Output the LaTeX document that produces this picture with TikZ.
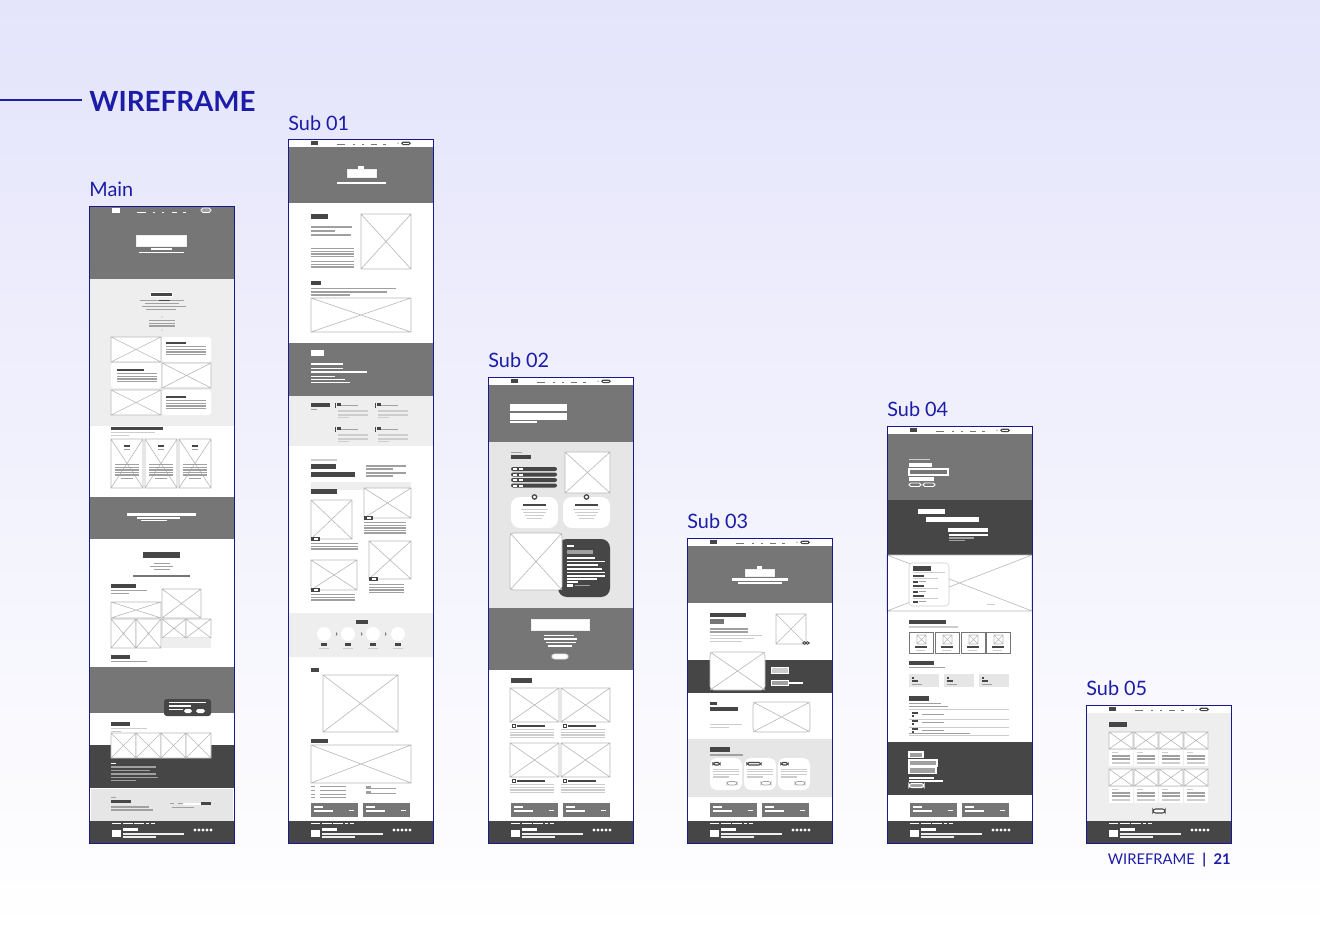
\documentclass[tikz,border=0pt]{standalone}
\usepackage{fontspec}
\setmainfont{Lato}
\usepackage{tikz}
\usetikzlibrary{positioning,calc}

\definecolor{navy}{RGB}{28,28,168}
\definecolor{bgtop}{RGB}{228,228,251}
\definecolor{mgr}{RGB}{118,118,118}
\definecolor{dgr}{RGB}{70,70,70}
\definecolor{lgA}{RGB}{238,238,238}
\definecolor{lgB}{RGB}{230,230,230}
\definecolor{tlc}{RGB}{160,160,160}
\definecolor{tllc}{RGB}{205,205,205}

\tikzset{
  ttl/.style={font=\fontsize{15.8}{19}\selectfont\bfseries, text=navy, inner sep=0},
  lbl/.style={font=\fontsize{11.3}{13}\selectfont, text=navy, inner sep=0},
  pgno/.style={font=\fontsize{8.4}{10}\selectfont, text=navy, inner sep=0},
  frame/.style={draw=navy!85!black, line width=0.45pt},
  imgln/.style={draw=gray!55, line width=0.35pt, fill=white},
  tl/.style={fill=tlc},
  tll/.style={fill=tllc}
}

% image placeholder with a cross
\newcommand{\ximg}[4]{\filldraw[imgln] (#1,#2) rectangle (#3,#4) (#1,#2) -- (#3,#4) (#1,#4) -- (#3,#2);}
% block of text lines
\newcommand{\para}[5][tl]{\foreach \k in {1,...,#5} \fill[#1] (#2,#3+2.6*\k-2.6) rectangle (#4,#3+2.6*\k-1.3);}
% top bar of the sub pages
\newcommand{\subnav}[1]{%
  \fill[white] (0,#1) rectangle (145,#1+8);
  \fill[dgr] (23,#1+2) rectangle (30,#1+6);
  \foreach \a/\b in {49/57,65/67,74/76,83/89,95/98} \fill[mgr] (\a,#1+4.5) rectangle (\b,#1+5.5);
  \fill[dgr, rounded corners=1] (113,#1+2.5) rectangle (123,#1+6);
  \fill[white] (115,#1+3.6) rectangle (121,#1+4.9);
  \fill[mgr] (110,#1+4.3) circle (0.6);}
% page footer
\newcommand{\pgfoot}{%
  \fill[dgr] (0,821) rectangle (145,843);
  \foreach \a/\b in {23/32,34/44,45/55,57/60,62/66} \fill[white] (\a,823) rectangle (\b,824.2);
  \fill[white] (23,830) rectangle (32,837);
  \fill[white] (34,828) rectangle (49,830.5);
  \fill[lgA] (34,832.5) rectangle (95,834.5);
  \fill[lgA] (34,836) rectangle (67,837.6);
  \foreach \i in {0,...,4} \fill[white] (106+4*\i,830) circle (1.6);}
% two grey call-to-action blocks
\newcommand{\ctas}{%
  \foreach \a in {23,75} {
    \fill[mgr] (\a,803) rectangle (\a+47,817);
    \fill[white] (\a+3,806) rectangle (\a+12,808);
    \fill[white] (\a+3,810) rectangle (\a+22,811.5);
    \fill[white] (\a+38,810) rectangle (\a+43,811);}}

\begin{document}
\begin{tikzpicture}[x=0.02cm, y=-0.02cm]
    \useasboundingbox (0,0) rectangle (1320,933);
    % Background
    \shade[top color=bgtop, bottom color=white] (0,0) rectangle (1320,933);

    % Title
    \node[ttl, anchor=base west] (title) at (89,112) {WIREFRAME};
    \coordinate (rulestart) at (0,100);
    \draw[navy, line width=0.8pt] (rulestart) -- ([xshift=-4pt]title.west |- rulestart);

    % Page labels
    \node[lbl, anchor=base west] (main) at (89,196) {Main};
    \node[lbl, anchor=base west] (subA) at (288,130) {Sub 01};
    \node[lbl, anchor=base west] (subB) at (488,367) {Sub 02};
    \node[lbl, anchor=base west] (subC) at (687,528) {Sub 03};
    \node[lbl, anchor=base west] (subD) at (887,416) {Sub 04};
    \node[lbl, anchor=base west] (subE) at (1086,695) {Sub 05};
    \node[pgno, anchor=base east] (pageno) at (1231,864) {WIREFRAME\enspace\textbf{|}\enspace\textbf{21}};

    % ---------------- Main ----------------
    \begin{scope}[shift={(89,0)}]
    \fill[white] (0,206) rectangle (145,843);
    % hero
    \fill[mgr] (0,206) rectangle (145,279);
    \fill[white] (23,208) rectangle (31,213);
    \foreach \a/\b in {48/57,64/66,73/75,83/88,94/97} \fill[white] (\a,211.5) rectangle (\b,212.8);
    \draw[white, fill=tlc, rounded corners=1] (112,208) rectangle (122,212.5);
    \filldraw[fill=white, draw=lgA] (47,235) rectangle (97,246);
    \fill[white] (62,248) rectangle (83,249.5);
    \fill[white] (50,251.5) rectangle (95,253);
    % intro
    \fill[lgA] (0,279) rectangle (145,426);
    \filldraw[fill=dgr, draw=white] (61,292) rectangle (83,296);
    \fill[tl] (51,300) rectangle (95,301.2);
    \fill[dgr] (70,299.6) rectangle (81,301.2);
    \fill[tl] (56,303) rectangle (90,304.2);
    \fill[tl] (53,306) rectangle (97,307.2);
    \fill[tl] (57,309) rectangle (87,310.2);
    \fill[tllc] (73,317) circle (0.8);
    \para{60}{320}{86}{3}
    \fill[tllc] (73,330) circle (0.8);
    % zig-zag rows
    \ximg{22}{337}{72}{362}
    \fill[white, rounded corners=1] (73,337) rectangle (122,362);
    \fill[dgr] (77,342) rectangle (97,344);
    \para{77}{346}{117}{4}
    \fill[white, rounded corners=1] (22,363) rectangle (72,388);
    \fill[dgr] (28,369) rectangle (55,371);
    \para{28}{373}{68}{4}
    \ximg{73}{363}{122}{388}
    \ximg{22}{390}{72}{415}
    \fill[white, rounded corners=1] (73,390) rectangle (122,415);
    \fill[dgr] (77,396) rectangle (97,398);
    \para{77}{400}{117}{4}
    % three cards
    \fill[dgr] (22,427) rectangle (74,430);
    \fill[tll] (22,432) rectangle (66,433);
    \fill[tll] (22,434.5) rectangle (40,435.5);
    \foreach \a in {22,56,90} {
      \ximg{\a}{439}{\a+32}{488}
      \fill[dgr] (\a+13,445) rectangle (\a+19,447);
      \fill[tl] (\a+13,449) rectangle (\a+19,450);
      \para{\a+4}{464}{\a+28}{5}
      \fill[tl] (\a+10,478) rectangle (\a+22,479.2);}
    % banner
    \fill[mgr] (0,497) rectangle (145,539);
    \fill[white] (38,513) rectangle (107,515.5);
    \fill[white] (48,517) rectangle (91,519);
    \fill[white] (52,520) rectangle (78,521.2);
    % gallery
    \filldraw[fill=dgr, draw=white] (53,551) rectangle (91,558);
    \fill[tl] (65,563) rectangle (81,564);
    \fill[tl] (61,566) rectangle (84,567);
    \fill[tl] (65,569) rectangle (81,570);
    \fill[mgr] (44,575) rectangle (101,576.5);
    \fill[dgr] (22,584) rectangle (47,588);
    \fill[tl] (22,590) rectangle (58,591);
    \fill[tl] (22,592.5) rectangle (40,593.5);
    \ximg{73}{589}{112}{618}
    \ximg{22}{602}{72}{618}
    \ximg{22}{619}{47}{648}
    \ximg{47}{619}{72}{648}
    \ximg{73}{619}{97}{638}
    \ximg{97}{619}{122}{638}
    \fill[lgA] (73,638) rectangle (122,648);
    \fill[dgr] (22,655) rectangle (41,659);
    \fill[tl] (22,661) rectangle (58,662);
    % grey band with dark box
    \fill[mgr] (0,667) rectangle (145,713);
    \fill[dgr, rounded corners=1.5] (75,699) rectangle (122,716);
    \fill[white] (80,701.5) rectangle (117,703);
    \fill[white] (80,705) rectangle (102,706.5);
    \fill[white] (80,708.5) rectangle (94,710);
    \fill[white, rounded corners=1] (95,709) rectangle (103,713);
    \fill[white, rounded corners=1] (107,709) rectangle (116,713);
    % image strip over dark band
    \fill[dgr] (22,722) rectangle (41,726);
    \fill[tll] (22,728) rectangle (58,729);
    \fill[tll] (22,730.5) rectangle (32,731.5);
    \fill[dgr] (0,745) rectangle (145,788);
    \foreach \a in {22,47,72,97} {\ximg{\a}{733}{\a+25}{758}}
    \fill[white] (22,763) rectangle (27,764);
    \foreach \b/\y in {67/766,61/769.5,67/773,69/776.5} \fill[tl] (22,\y) rectangle (\b,\y+1.5);
    \fill[tl] (22,780) rectangle (47,781.2);
    % contact strip
    \filldraw[fill=lgB, draw=white] (1,788) rectangle (144,821);
    \fill[tl] (22,797) rectangle (27,798);
    \fill[dgr] (22,800) rectangle (42,803);
    \fill[tl] (22,806) rectangle (60,807.5);
    \fill[tl] (22,809) rectangle (64,810.5);
    \fill[tl] (81,803) rectangle (85,804);
    \fill[tl] (89,803) rectangle (94,804);
    \fill[white] (94,802.5) rectangle (112,804.5);
    \fill[dgr] (112,802) rectangle (122,805);
    \fill[tl] (83,806.5) rectangle (105,807.3);
    \pgfoot
    \draw[frame] (0,206) rectangle (145,843);
    \end{scope}

    % ---------------- Sub 01 ----------------
    \begin{scope}[shift={(288,0)}]
    \fill[white] (0,139) rectangle (145,843);
    \subnav{139}
    % hero
    \fill[mgr] (0,147) rectangle (145,203);
    \fill[white] (70,166) rectangle (76,169);
    \filldraw[fill=white, draw=lgA] (59,169) rectangle (88,177);
    \fill[white] (49,181.5) rectangle (98,184);
    % text and images
    \fill[dgr] (23,214) rectangle (40,219);
    \fill[tl] (23,226) rectangle (64,227.5);
    \fill[tl] (23,230) rectangle (47,231.5);
    \fill[tl] (23,234) rectangle (63,235.5);
    \para{23}{248}{66}{4}
    \para{23}{261}{66}{3}
    \ximg{73}{214}{123}{269}
    \fill[dgr] (23,281) rectangle (33,285);
    \fill[tl] (23,287.5) rectangle (108,289);
    \fill[tl] (23,291) rectangle (99,292.5);
    \fill[tl] (23,294) rectangle (62,295.5);
    \ximg{23}{298}{123}{332}
    % grey band
    \fill[mgr] (0,343) rectangle (145,396);
    \fill[white] (23,350) rectangle (36,356);
    \fill[white] (23,363) rectangle (55,364.5);
    \fill[white] (23,367.5) rectangle (55,369);
    \fill[white] (23,371) rectangle (79,372.5);
    \fill[white] (23,375.5) rectangle (47,377);
    \fill[white] (23,378.5) rectangle (57,380);
    \fill[white] (23,381.5) rectangle (62,383);
    % light band with four items
    \fill[lgA] (0,396) rectangle (145,446);
    \fill[dgr] (23,403) rectangle (42,407);
    \fill[tl] (23,409) rectangle (29,410);
    \foreach \a/\y in {47/403,87/403,47/427,87/427} {
      \fill[dgr] (\a,\y) rectangle (\a+0.8,\y+5);
      \fill[dgr] (\a+2,\y) rectangle (\a+6,\y+3);
      \fill[tl] (\a+6,\y+2) rectangle (\a+23,\y+3.2);
      \fill[tll] (\a+3,\y+7) rectangle (\a+33,\y+9);
      \fill[tll] (\a+3,\y+10.5) rectangle (\a+33,\y+12.5);
      \fill[tll] (\a+3,\y+14) rectangle (\a+14,\y+15);}
    % headline and stacked cards
    \fill[tll] (23,459) rectangle (49,461);
    \fill[dgr] (23,464) rectangle (48,469);
    \fill[dgr] (23,472) rectangle (67,477);
    \fill[tl] (78,465) rectangle (118,466.5);
    \fill[tl] (78,468) rectangle (105,469.5);
    \fill[tl] (78,472) rectangle (118,473.5);
    \fill[tl] (78,475) rectangle (105,476.5);
    \fill[lgA] (23,482) rectangle (123,490);
    \fill[dgr] (23,489) rectangle (49,494);
    \ximg{23}{500}{64}{539}
    \ximg{76}{488}{123}{518}
    \ximg{81}{541}{123}{579}
    \ximg{23}{560}{69}{590}
    \foreach \a/\y in {23/537,76/516,81/577,23/588} {
      \fill[dgr] (\a,\y) rectangle (\a+9,\y+4);
      \fill[white] (\a+2.5,\y+1.2) rectangle (\a+6.5,\y+2.8);}
    \para{23}{543}{70}{3}
    \para{76}{522}{118}{5}
    \para{81}{584}{116}{4}
    \para{23}{594}{67}{3}
    % process steps
    \fill[lgA] (0,613) rectangle (145,657);
    \fill[dgr] (68,620) rectangle (80,624);
    \foreach \a in {36,60,85,110} {
      \fill[white] (\a,634) circle (7);
      \fill[dgr] (\a-3,643) rectangle (\a+3,645.5);
      \fill[tll] (\a-5,648) rectangle (\a+5,649);}
    \foreach \a in {48,73,97} \draw[dgr, line width=0.3pt] (\a,632.5) -- (\a+1.2,634) -- (\a,635.5);
    % map and location
    \fill[dgr] (23,668) rectangle (31,672);
    \ximg{35}{675}{110}{732}
    \fill[dgr] (23,739) rectangle (40,743);
    \ximg{23}{745}{123}{783}
    \foreach \y in {786,790,793.5,797} {
      \fill[tl] (23,\y) rectangle (27,\y+1);
      \fill[tl] (32,\y) rectangle (58,\y+1);}
    \foreach \y in {786,791} {
      \fill[tl] (78,\y) rectangle (83,\y+1.5);
      \fill[tl] (78,\y+2.3) rectangle (108,\y+3.3);}
    \ctas
    \pgfoot
    \draw[frame] (0,139) rectangle (145,843);
    \end{scope}

    % ---------------- Sub 02 ----------------
    \begin{scope}[shift={(488,0)}]
    \fill[white] (0,377) rectangle (145,843);
    \subnav{377}
    % hero
    \fill[mgr] (0,385) rectangle (145,442);
    \fill[white] (22,403.5) rectangle (79,411);
    \fill[white] (22,412.5) rectangle (79,419.5);
    \fill[white] (22,420.5) rectangle (49,422.5);
    % features
    \fill[lgB] (0,442) rectangle (145,608);
    \fill[tl] (23,452) rectangle (34,453);
    \fill[dgr] (23,455) rectangle (43,459);
    \foreach \y in {467,472.5,478,483.5} {
      \fill[dgr, rounded corners=1.2] (23,\y) rectangle (69,\y+4);
      \fill[white] (25,\y+1) rectangle (35,\y+3);
      \fill[dgr] (29,\y+0.6) rectangle (31,\y+3.4);}
    \ximg{77}{452}{122}{493}
    \foreach \a in {23,75} {
      \fill[white, rounded corners=5] (\a,497) rectangle (\a+47,528);
      \draw[dgr, fill=white, line width=0.7pt] (\a+23.5,497) circle (2.2);
      \fill[dgr] (\a+12,504) rectangle (\a+35,505.8);
      \fill[tll] (\a+10,509) rectangle (\a+37,510);
      \fill[tll] (\a+12,512) rectangle (\a+35,513);
      \fill[tll] (\a+14,515) rectangle (\a+33,516);
      \fill[tll] (\a+16,518) rectangle (\a+31,519);}
    \fill[dgr, rounded corners=5] (70,539) rectangle (122,597);
    \filldraw[imgln, rounded corners=2] (22,533) rectangle (74,590);
    \draw[imgln] (22,533) -- (74,590) (22,590) -- (74,533);
    \fill[white] (79,545) rectangle (86,546.5);
    \fill[tl] (79,550) rectangle (105,553.5);
    \fill[white] (79,557) rectangle (107,558.5);
    \fill[white] (79,560.5) rectangle (117,562);
    \fill[white] (79,564) rectangle (110,565.5);
    \fill[white] (79,568) rectangle (114,569.5);
    \fill[white] (79,571.5) rectangle (117,573);
    \fill[white] (79,575) rectangle (117,576.5);
    \fill[white] (79,578) rectangle (109,579.5);
    \fill[white] (79,581) rectangle (90,582.5);
    \fill[white] (79,584) rectangle (85,586.5);
    \fill[tl] (87,584.8) rectangle (102,585.8);
    % call to action band
    \fill[mgr] (0,608) rectangle (145,670);
    \filldraw[fill=white, draw=lgA] (43,619) rectangle (101,630);
    \foreach \a/\b/\y in {56/86/634.5,56/89/638,58/88/641.5,60/84/645} \fill[white] (\a,\y) rectangle (\b,\y+1.5);
    \filldraw[fill=white, draw=lgB, rounded corners=1.5] (64,654) rectangle (80,659);
    % news list
    \fill[dgr] (23,678) rectangle (44,683);
    \foreach \y in {688,743} {
      \foreach \a in {22,73} {
        \ximg{\a}{\y}{\a+49}{\y+34}
        \draw[dgr, line width=0.4pt] (\a+2,\y+36) rectangle (\a+5,\y+39);
        \fill[dgr] (\a+7,\y+37) rectangle (\a+35,\y+38.5);
        \para[tll]{\a}{\y+41}{\a+44}{4}}}
    \ctas
    \pgfoot
    \draw[frame] (0,377) rectangle (145,843);
    \end{scope}

    % ---------------- Sub 03 ----------------
    \begin{scope}[shift={(687,0)}]
    \fill[white] (0,538) rectangle (145,843);
    \subnav{538}
    % hero
    \fill[mgr] (0,546) rectangle (145,603);
    \fill[white] (70,565.5) rectangle (75,568.5);
    \filldraw[fill=white, draw=lgA] (58,569) rectangle (87,576);
    \fill[white] (45,578) rectangle (101,580.5);
    \fill[white] (51,582) rectangle (95,584);
    % intro
    \fill[dgr] (23,613) rectangle (59,617);
    \fill[mgr] (23,619) rectangle (37,624);
    \fill[tl] (23,628) rectangle (61,629.5);
    \fill[tl] (23,631) rectangle (61,632.5);
    \fill[tll] (23,635) rectangle (75,636);
    \fill[tll] (23,638) rectangle (67,639);
    \fill[tll] (23,641) rectangle (55,642);
    \ximg{89}{614}{119}{644}
    \draw[dgr, fill=white, line width=0.5pt] (117.5,643) ellipse (1.8 and 1.3);
    \draw[dgr, fill=white, line width=0.5pt] (120.5,643) ellipse (1.8 and 1.3);
    % dark band
    \fill[dgr] (0,660) rectangle (145,693);
    \filldraw[imgln, rounded corners=2] (23,652) rectangle (78,690);
    \draw[imgln] (23,652) -- (78,690) (23,690) -- (78,652);
    \filldraw[fill=tllc, draw=white, line width=0.5pt] (84,667) rectangle (101,673);
    \filldraw[fill=tlc, draw=white, line width=0.5pt] (84,680) rectangle (101,685);
    \fill[white] (101,682) rectangle (116,683.5);
    % second row
    \fill[dgr] (23,701.5) rectangle (30,705);
    \fill[dgr] (23,707) rectangle (51,711);
    \fill[tll] (23,723.5) rectangle (55,725);
    \fill[tll] (23,727) rectangle (42,728);
    \filldraw[imgln, rounded corners=2] (66,702) rectangle (123,732);
    \draw[imgln] (66,702) -- (123,732) (66,732) -- (123,702);
    % cards
    \fill[lgB] (0,739) rectangle (145,797);
    \fill[dgr] (23,747) rectangle (43,751.5);
    \fill[tl] (23,754) rectangle (56,755.5);
    \foreach \a/\w in {23/7,57/14,91/7} {
      \fill[white, rounded corners=4] (\a,758) rectangle (\a+32,790);
      \draw[dgr, line width=0.6pt, rounded corners=1] (\a+3,762.5) rectangle (\a+3+\w,765);
      \para[tll]{\a+3}{768.5}{\a+29}{3}
      \fill[tll] (\a+3,776.3) rectangle (\a+19,777.6);
      \draw[tlc, line width=0.4pt, rounded corners=1.5] (\a+17,781.5) rectangle (\a+27,785);}
    \ctas
    \pgfoot
    \draw[frame] (0,538) rectangle (145,843);
    \end{scope}

    % ---------------- Sub 04 ----------------
    \begin{scope}[shift={(887,0)}]
    \fill[white] (0,426) rectangle (145,843);
    \subnav{426}
    % hero form
    \fill[mgr] (0,434) rectangle (145,500);
    \fill[tll] (22,458.5) rectangle (43,460);
    \fill[white] (22,463) rectangle (45,467);
    \filldraw[fill=mgr, draw=white, line width=0.8pt] (22,469) rectangle (61,475);
    \fill[white] (22,477) rectangle (47,481);
    \draw[white, line width=0.5pt, rounded corners=1] (22,483) rectangle (34,486.5);
    \draw[white, line width=0.5pt, rounded corners=1] (36,483) rectangle (48,486.5);
    % dark quote band
    \fill[dgr] (0,500) rectangle (145,555);
    \fill[white] (31,509) rectangle (58,514);
    \fill[white] (39,517) rectangle (92,521.5);
    \fill[white] (61,528) rectangle (101,532);
    \fill[white] (62,533.5) rectangle (101,536);
    \fill[tl] (62,537) rectangle (87,538.5);
    \fill[tl] (62,540) rectangle (78,541);
    % background image with card
    \ximg{0}{555}{145}{611}
    \filldraw[fill=white, draw=tllc, line width=0.3pt, rounded corners=2] (22,563) rectangle (62,606);
    \fill[dgr] (26,566) rectangle (44,570.5);
    \fill[tll] (26,572) rectangle (58,573);
    \foreach \g in {575,585,595} {
      \fill[dgr] (26,\g) rectangle (37,\g+1.5);
      \fill[tll] (26,\g+3) rectangle (51,\g+4);
      \fill[dgr] (26,\g+5.5) rectangle (31,\g+7.5);
      \fill[tl] (32,\g+6) rectangle (39,\g+7);}
    \fill[tll] (100,604) rectangle (108,605);
    % products
    \fill[dgr] (22,619.5) rectangle (59,623.5);
    \fill[tll] (22,626) rectangle (71,627.5);
    \foreach \a in {22,48,74,99} {
      \filldraw[fill=white, draw=mgr, line width=0.5pt] (\a,632) rectangle (\a+24,653);
      \ximg{\a+8}{635}{\a+17}{644}
      \fill[dgr] (\a+6,646) rectangle (\a+18,648);
      \fill[tll] (\a+7,649.5) rectangle (\a+16,650.5);}
    \fill[dgr] (22,661) rectangle (47,665);
    \fill[tl] (22,667) rectangle (58,668);
    \foreach \a in {22,57,92} {
      \fill[lgB] (\a,674) rectangle (\a+30,687);
      \fill[dgr] (\a+3,677) rectangle (\a+5,678.5);
      \fill[dgr] (\a+3,680) rectangle (\a+9,681.5);
      \fill[tl] (\a+3,684) rectangle (\a+13,685);}
    % spec table
    \fill[dgr] (22,696) rectangle (42,700.5);
    \fill[tl] (22,703) rectangle (54,704);
    \fill[tl] (22,705.5) rectangle (61,706.5);
    \fill[tll] (22,709) rectangle (122,709.5);
    \foreach \r in {712,720,728} {
      \fill[dgr] (25,\r) rectangle (31,\r+1.5);
      \fill[dgr] (25,\r+3) rectangle (27,\r+5);
      \fill[tl] (35,\r+2) rectangle (57,\r+3);
      \fill[tll] (22,\r+6.5) rectangle (122,\r+7);}
    \fill[tl] (22,733) rectangle (83,734.2);
    % dark form band
    \fill[dgr] (0,742) rectangle (145,795);
    \filldraw[fill=tlc, draw=white, line width=0.6pt] (22,752) rectangle (36,757.5);
    \filldraw[fill=tlc, draw=white, line width=0.6pt] (22,760) rectangle (50,766);
    \filldraw[fill=tlc, draw=white, line width=0.6pt] (22,767.5) rectangle (49,773.5);
    \fill[white] (22,777) rectangle (47,778.5);
    \fill[white] (22,780) rectangle (56,781.5);
    \filldraw[fill=tlc, draw=white, line width=0.6pt, rounded corners=1.5] (22,783.5) rectangle (37,787.5);
    \ctas
    \pgfoot
    \draw[frame] (0,426) rectangle (145,843);
    \end{scope}

    % ---------------- Sub 05 ----------------
    \begin{scope}[shift={(1086,0)}]
    \fill[white] (0,705) rectangle (145,843);
    \subnav{705}
    \fill[lgA] (0,713) rectangle (145,821);
    \fill[dgr] (23,722) rectangle (41,726.5);
    \foreach \y in {732,769} {
      \foreach \a in {23,48,73,98} {
        \ximg{\a}{\y}{\a+24}{\y+17}
        \fill[white] (\a,\y+18) rectangle (\a+24,\y+34);
        \fill[tll] (\a+3,\y+20) rectangle (\a+9,\y+21);
        \fill[tl] (\a+3,\y+23) rectangle (\a+21,\y+24.5);
        \fill[tl] (\a+3,\y+26) rectangle (\a+21,\y+27.5);
        \fill[tll] (\a+3,\y+30) rectangle (\a+21,\y+31.5);}}
    \filldraw[fill=white, draw=dgr, line width=0.6pt, rounded corners=1.5] (67,809) rectangle (79,813);
    \pgfoot
    \draw[frame] (0,705) rectangle (145,843);
    \end{scope}
\end{tikzpicture}
\end{document}
